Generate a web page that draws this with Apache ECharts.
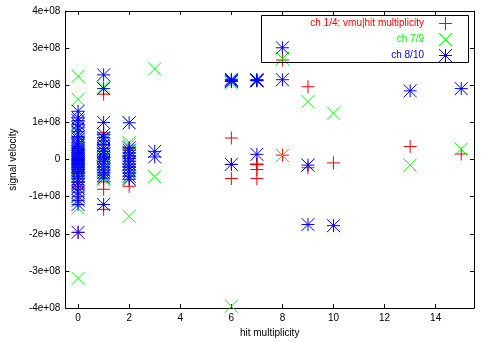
<!DOCTYPE html>
<html><head><meta charset="utf-8">
<script src="https://cdn.jsdelivr.net/npm/echarts@6/dist/echarts.min.js"></script>
<style>html,body{margin:0;padding:0;background:#fff}#c{width:491px;height:343px}</style>
</head><body><div id="c"></div>
<script>
// x = hit multiplicity, y = signal velocity
const seriesNames = ['ch 1/4: vmu|hit multiplicity', 'ch 7/9', 'ch 8/10'];
const xTicks = [0, 2, 4, 6, 8, 10, 12, 14];
const yTicks = [-4e8, -3e8, -2e8, -1e8, 0, 1e8, 2e8, 3e8, 4e8];

const redPoints = [
  [0, 0.6e8], [0, 0.3e8], [0, 0.0], [0, -0.35e8], [0, -0.62e8], [0, -0.73e8], [0, -0.8e8], [0, -1.96e8],
  [1, 1.76e8], [1, 0.72e8], [1, 0.4e8], [1, 0.05e8], [1, -0.35e8], [1, -0.6e8], [1, -0.8e8], [1, -1.34e8],
  [2, 0.3e8], [2, 0.1e8], [2, -0.2e8], [2, -0.72e8],
  [6, 0.58e8], [6, -0.13e8], [6, -0.51e8],
  [7, -0.12e8], [7, -0.13e8], [7, -0.14e8], [7, -0.27e8], [7, -0.51e8],
  [8, 2.68e8], [8, 0.12e8],
  [9, 1.96e8], [9, -0.22e8],
  [10, -0.09e8],
  [13, 0.35e8],
  [15, 0.15e8]
];
const greenPoints = [
  [0, 2.24e8], [0, 1.62e8], [0, 0.86e8], [0, 0.7e8], [0, 0.55e8], [0, 0.4e8], [0, 0.25e8], [0, 0.1e8],
  [0, -0.05e8], [0, -0.22e8], [0, -0.3e8], [0, -0.42e8], [0, -0.55e8], [0, -1.3e8], [0, -3.2e8],
  [1, 1.95e8], [1, 0.55e8], [1, 0.3e8], [1, 0.1e8], [1, -0.1e8], [1, -0.3e8], [1, -0.45e8], [1, -0.55e8],
  [2, 0.99e8], [2, 0.46e8], [2, 0.4e8], [2, 0.2e8], [2, -0.1e8], [2, -0.3e8], [2, -0.5e8], [2, -1.53e8],
  [3, 2.44e8], [3, -0.46e8],
  [6, 2.06e8], [6, -3.95e8],
  [7, 2.12e8],
  [8, 2.72e8], [8, 0.11e8],
  [9, 1.56e8], [9, -0.15e8],
  [10, 1.25e8],
  [13, -0.15e8],
  [15, 0.28e8]
];
const bluePoints = [
  [0, 1.3e8], [0, 1.12e8], [0, 1.05e8], [0, 0.95e8], [0, 0.85e8], [0, 0.75e8], [0, 0.62e8], [0, 0.55e8],
  [0, 0.48e8], [0, 0.42e8], [0, 0.36e8], [0, 0.3e8], [0, 0.25e8], [0, 0.2e8], [0, 0.15e8], [0, 0.1e8],
  [0, 0.06e8], [0, 0.03e8], [0, 0.0], [0, -0.03e8], [0, -0.07e8], [0, -0.1e8], [0, -0.14e8], [0, -0.18e8],
  [0, -0.22e8], [0, -0.27e8], [0, -0.32e8], [0, -0.38e8], [0, -0.45e8], [0, -0.52e8], [0, -0.6e8],
  [0, -0.68e8], [0, -0.77e8], [0, -0.88e8], [0, -0.99e8], [0, -1.1e8], [0, -1.21e8], [0, -1.96e8],
  [1, 2.28e8], [1, 1.91e8], [1, 1.0e8], [1, 0.68e8], [1, 0.59e8], [1, 0.5e8], [1, 0.4e8], [1, 0.3e8],
  [1, 0.22e8], [1, 0.15e8], [1, 0.08e8], [1, 0.02e8], [1, -0.05e8], [1, -0.12e8], [1, -0.2e8],
  [1, -0.28e8], [1, -0.35e8], [1, -0.42e8], [1, -0.5e8], [1, -1.21e8],
  [2, 0.99e8], [2, 0.32e8], [2, 0.25e8], [2, 0.18e8], [2, 0.1e8], [2, 0.03e8], [2, -0.05e8],
  [2, -0.12e8], [2, -0.2e8], [2, -0.28e8], [2, -0.36e8], [2, -0.45e8], [2, -0.53e8],
  [3, 0.22e8], [3, 0.07e8],
  [6, 2.13e8], [6, 2.16e8], [6, 2.1e8], [6, -0.13e8],
  [7, 2.13e8], [7, 2.14e8], [7, 2.12e8], [7, 2.15e8], [7, 0.14e8],
  [8, 3.01e8], [8, 2.15e8],
  [9, -0.15e8], [9, -1.75e8],
  [10, -1.78e8],
  [13, 1.85e8],
  [15, 1.91e8]
];

const PLUS_D = 'M0,5L10,5M5,0L5,10';
const CROSS_D = 'M0,0L10,10M10,0L0,10';
const STAR_D = 'M0,5L10,5M5,0L5,10M0,0L10,10M10,0L0,10';
const pathData = [PLUS_D, CROSS_D, STAR_D];
const colors = ['#ff0000', '#00ff00', '#0000ff'];
const datasets = [redPoints, greenPoints, bluePoints];
const FONT = 'Liberation Sans, Arial, sans-serif';

function fmtY(v) {
  if (v === 0) return '0';
  return Math.round(v / 1e8) + 'e+08';
}

const chart = echarts.init(document.getElementById('c'), null, {renderer: 'canvas'});
const legendTops = [16, 32, 48];
const LEG_RIGHT = 39, LEG_ICON = 14, W = 491;

// legend key glyphs (decoration only), built from line segments
function keyGlyph(i) {
  const cx = W - LEG_RIGHT - LEG_ICON / 2 + 0.5;
  const cy = legendTops[i] + LEG_ICON / 2 + 0.5;
  const h = 6.5;
  const segs = [];
  const plus = [[-h, 0, h, 0], [0, -h, 0, h]];
  const cross = [[-h, -h, h, h], [h, -h, -h, h]];
  const parts = i === 0 ? plus : (i === 1 ? cross : plus.concat(cross));
  parts.forEach(p => segs.push({
    type: 'line', z: 100,
    shape: {x1: cx + p[0], y1: cy + p[1], x2: cx + p[2], y2: cy + p[3]},
    style: {stroke: colors[i], lineWidth: 1}
  }));
  return segs;
}

const option = {
  animation: false,
  backgroundColor: '#fff',
  grid: {left: 60, right: 17, top: 11, bottom: 29},
  xAxis: [{
    type: 'value', min: -0.5, max: 15.5, position: 'bottom',
    name: 'hit multiplicity', nameLocation: 'middle', nameGap: 18,
    nameTextStyle: {fontFamily: FONT, fontSize: 10, color: '#000'},
    axisLine: {show: true, onZero: false, lineStyle: {color: '#000', width: 1}},
    axisTick: {show: true, inside: true, length: 4, customValues: xTicks, lineStyle: {color: '#000'}},
    axisLabel: {customValues: xTicks, fontFamily: FONT, fontSize: 10, color: '#000', margin: 5},
    splitLine: {show: false}
  }, {
    type: 'value', min: -0.5, max: 15.5, position: 'top',
    axisLine: {show: true, onZero: false, lineStyle: {color: '#000', width: 1}},
    axisTick: {show: true, inside: true, length: 4, customValues: xTicks, lineStyle: {color: '#000'}},
    axisLabel: {show: false},
    splitLine: {show: false}
  }],
  yAxis: [{
    type: 'value', min: -4e8, max: 4e8, interval: 1e8, position: 'left',
    name: 'signal velocity', nameLocation: 'middle', nameGap: 46, nameRotate: 90,
    nameTextStyle: {fontFamily: FONT, fontSize: 10, color: '#000'},
    axisLine: {show: true, onZero: false, lineStyle: {color: '#000', width: 1}},
    axisTick: {show: true, inside: true, length: 4, lineStyle: {color: '#000'}},
    axisLabel: {formatter: fmtY, fontFamily: FONT, fontSize: 10, color: '#000', margin: 5},
    splitLine: {show: false}
  }, {
    type: 'value', min: -4e8, max: 4e8, interval: 1e8, position: 'right',
    axisLine: {show: true, onZero: false, lineStyle: {color: '#000', width: 1}},
    axisTick: {show: true, inside: true, length: 4, lineStyle: {color: '#000'}},
    axisLabel: {show: false},
    splitLine: {show: false}
  }],
  legend: seriesNames.map((n, i) => ({
    data: [{name: n, icon: 'none'}],
    orient: 'horizontal', align: 'right', right: LEG_RIGHT, top: legendTops[i],
    padding: 0, itemWidth: LEG_ICON, itemHeight: LEG_ICON, selectedMode: false,
    textStyle: {color: colors[i], fontFamily: FONT, fontSize: 10, padding: [0, 23, 0, 0]}
  })),
  graphic: [{
    type: 'rect', shape: {x: 261.5, y: 15.5, width: 207, height: 47},
    style: {fill: 'none', stroke: '#000', lineWidth: 1}, z: 100
  }].concat(keyGlyph(0), keyGlyph(1), keyGlyph(2)),
  series: seriesNames.map((n, i) => ({
    name: n, type: 'scatter', xAxisIndex: 0, yAxisIndex: 0,
    symbol: 'path://' + pathData[i], symbolSize: 13, data: datasets[i],
    itemStyle: {color: 'rgba(255,255,255,0)', borderColor: colors[i], borderWidth: 1, opacity: 1},
    emphasis: {disabled: true}, z: 2 + i
  }))
};
chart.setOption(option);
</script></body></html>
